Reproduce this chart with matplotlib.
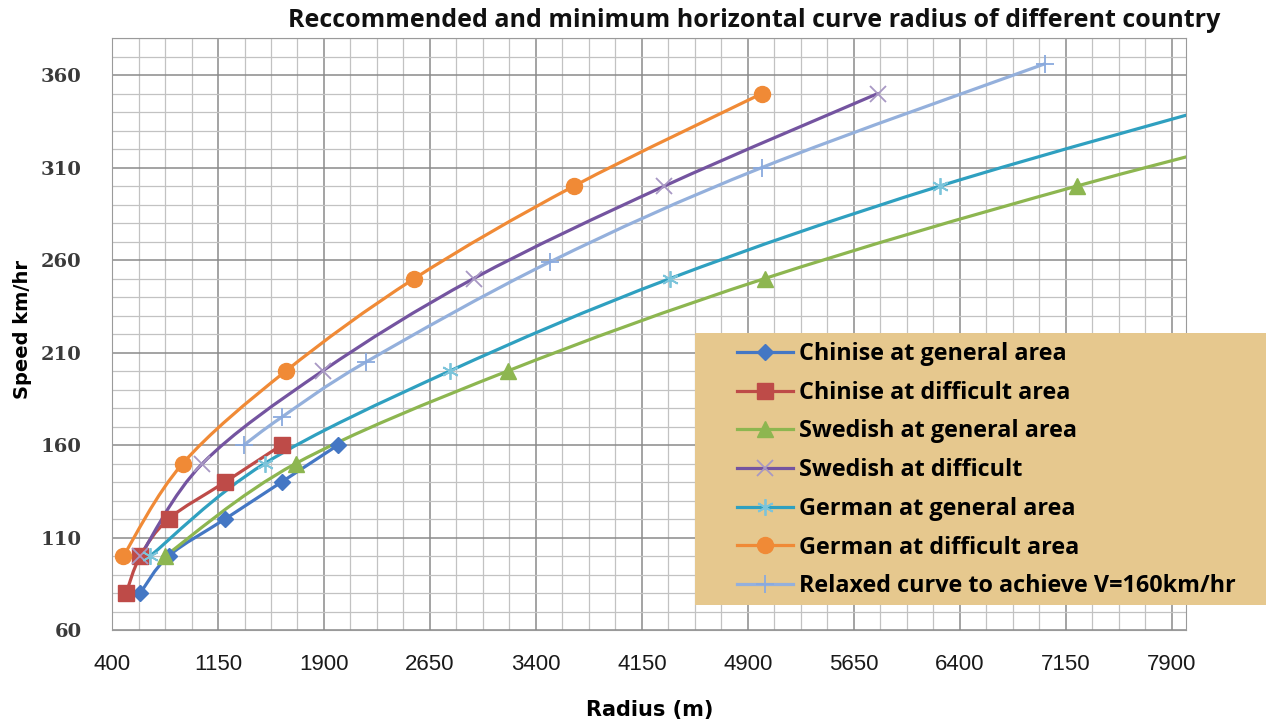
import numpy as np
import matplotlib.pyplot as plt
from matplotlib.path import Path
from matplotlib.patches import PathPatch, Rectangle
from matplotlib.lines import Line2D

# speed (km/h) against minimum curve radius (m)
cn_gen_r = [600, 800, 1200, 1600, 2000]
cn_gen_v = [80, 100, 120, 140, 160]
cn_dif_r = [500, 600, 800, 1200, 1600]
cn_dif_v = [80, 100, 120, 140, 160]
se_gen_r = [775, 1700, 3200, 5020, 7230, 9750]
se_gen_v = [100, 150, 200, 250, 300, 350]
se_dif_r = [600, 1040, 1890, 2960, 4310, 5820]
se_dif_v = [100, 150, 200, 250, 300, 350]
de_gen_r = [670, 1480, 2790, 4350, 6260, 8550]
de_gen_v = [100, 150, 200, 250, 300, 350]
de_dif_r = [480, 900, 1630, 2540, 3670, 5000]
de_dif_v = [100, 150, 200, 250, 300, 350]
relax_r = [1333, 1600, 2200, 3500, 5000, 7000]
relax_v = [160, 175, 205, 259, 310, 366]

x_ticks = [400, 1150, 1900, 2650, 3400, 4150, 4900, 5650, 6400, 7150, 7900]
y_ticks = [60, 110, 160, 210, 260, 310, 360]

series = [
    ("Chinise at general area", cn_gen_r, cn_gen_v, "#4477c4", dict(marker="D", ms=8)),
    ("Chinise at difficult area", cn_dif_r, cn_dif_v, "#be4b48", dict(marker="s", ms=11.5)),
    ("Swedish at general area", se_gen_r, se_gen_v, "#8db650", dict(marker="^", ms=11)),
    ("Swedish at difficult", se_dif_r, se_dif_v, "#7454a0", dict(marker="x", ms=11, mew=1.3, mec="#a898c4")),
    ("German at general area", de_gen_r, de_gen_v, "#2fa0c0", dict(marker=(6, 2, 0), ms=12, mew=1.3, mec="#7cc4da")),
    ("German at difficult area", de_dif_r, de_dif_v, "#f08a36", dict(marker="o", ms=11.5)),
    ("Relaxed curve to achieve V=160km/hr", relax_r, relax_v, "#94b0dc", dict(marker="+", ms=13, mew=1.3, mec="#8aaade")),
]


def smooth_path(xs, ys):
    # cubic bezier through every point, control points as in a smoothed office line
    pts = np.column_stack([xs, ys]).astype(float)
    ext = np.vstack([pts[0], pts, pts[-1]])
    verts = [pts[0]]
    codes = [Path.MOVETO]
    for i in range(len(pts) - 1):
        p0, p1, p2, p3 = ext[i], ext[i + 1], ext[i + 2], ext[i + 3]
        verts += [p1 + (p2 - p0) / 6, p2 - (p3 - p1) / 6, p2]
        codes += [Path.CURVE4] * 3
    return Path(verts, codes)


fig = plt.figure(figsize=(12.66, 7.24), dpi=100)
ax = fig.add_axes([0.0885, 0.1298, 0.8482, 0.8177])

ax.set_xlim(400, 8000)
ax.set_ylim(60, 380)
ax.set_xticks(x_ticks)
ax.set_yticks(y_ticks)
ax.set_xticks(np.arange(400, 8000, 187.5), minor=True)
ax.set_yticks(np.arange(60, 381, 10), minor=True)
ax.grid(True, which="major", color="#8a8a8a", lw=1.1)
ax.grid(True, which="minor", color="#c2c2c2", lw=0.9)
ax.set_axisbelow(True)
for s in ax.spines.values():
    s.set_color("#9a9a9a")
ax.xaxis.set_tick_params(which="both", length=0, pad=17)
ax.yaxis.set_tick_params(which="both", length=0, pad=22)

for lbl in ax.get_yticklabels():
    lbl.set_fontfamily("DejaVu Serif")
    lbl.set_fontweight("bold")
    lbl.set_fontsize(14)
    lbl.set_color("#3a3a3a")
for lbl in ax.get_xticklabels():
    lbl.set_fontfamily("Liberation Sans")
    lbl.set_fontsize(16)
    lbl.set_color("#1a1a1a")

handles = []
for name, xs, ys, color, mk in series:
    ax.add_patch(PathPatch(smooth_path(xs, ys), fill=False, edgecolor=color, lw=2.3,
                           capstyle="round", joinstyle="round"))
    mk = dict(mk)
    mec = mk.pop("mec", color)
    ax.plot(xs, ys, ls="none", color=color, mec=mec, **mk)
    handles.append(Line2D([], [], color=color, lw=2.3, mec=mec, **mk))

fig.text(0.5955, 0.972, "Reccommended and minimum horizontal curve radius of different country",
         ha="center", va="center", fontsize=18, fontweight="bold", family="Open Sans", color="#111111")
fig.text(0.0175, 0.545, "Speed km/hr", rotation=90, ha="center", va="center",
         fontsize=14, fontweight="bold", family="DejaVu Sans")
fig.text(0.513, 0.02, "Radius (m)", ha="center", va="center",
         fontsize=15, fontweight="bold", family="DejaVu Sans")

# parchment coloured legend panel
fig.add_artist(Rectangle((0.549, 0.1644), 0.451, 0.3757, transform=fig.transFigure,
                         facecolor="#e6c88e", edgecolor="none", zorder=3))
leg = fig.legend(handles, [s[0] for s in series], loc="upper left",
                 bbox_to_anchor=(0.5822, 0.5275), frameon=False,
                 handlelength=2.4, handletextpad=0.27, labelspacing=0.63,
                 borderpad=0, borderaxespad=0,
                 prop=dict(family="Open Sans", weight="bold", size=16.8))
leg.set_zorder(4)

fig.savefig("out.png", dpi=100)
